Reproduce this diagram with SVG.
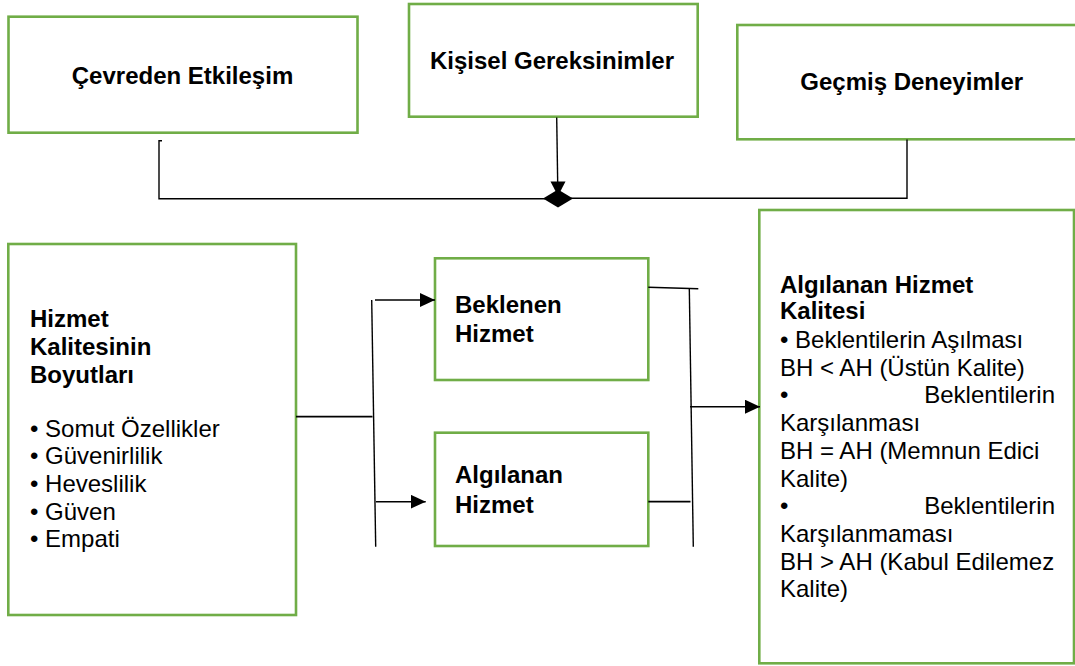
<svg xmlns="http://www.w3.org/2000/svg" width="1075" height="666" viewBox="0 0 1075 666">
  <style>
    .box { fill: #ffffff; stroke: #70AD47; stroke-width: 2.6; }
    .t { font-family: "Liberation Sans", Arial, sans-serif; font-size: 24px; fill: #000000; }
    .b { font-weight: bold; }
    .ln { fill: none; stroke: #000000; stroke-width: 1.4; }
    .hd { fill: #000000; stroke: none; }
  </style>
  <defs>
    <marker id="arr" markerWidth="15" markerHeight="14" refX="15" refY="7" orient="auto" markerUnits="userSpaceOnUse">
      <path d="M0,0 L15,7 L0,14 Z" fill="#000000"/>
    </marker>
  </defs>
  <rect width="1075" height="666" fill="#ffffff"/>

  <g id="node-cevreden">
    <rect class="box" x="8.5" y="16.7" width="349" height="116"/>
    <text class="t b" x="182.5" y="84" text-anchor="middle">Çevreden Etkileşim</text>
  </g>
  <g id="node-kisisel">
    <rect class="box" x="409" y="4" width="288.7" height="112.7"/>
    <text class="t b" x="552" y="69" text-anchor="middle">Kişisel Gereksinimler</text>
  </g>
  <g id="node-gecmis">
    <rect class="box" x="737.3" y="25" width="350" height="114.3"/>
    <text class="t b" x="911.7" y="90" text-anchor="middle">Geçmiş Deneyimler</text>
  </g>
  <g id="node-boyutlar">
    <rect class="box" x="8.3" y="244" width="287.7" height="371"/>
    <text class="t b" x="30"><tspan x="30" y="326.7">Hizmet</tspan><tspan x="30" y="355">Kalitesinin</tspan><tspan x="30" y="382.7">Boyutları</tspan></text>
    <text class="t" x="30"><tspan x="30" y="436.7">• Somut Özellikler</tspan><tspan x="30" y="464.3">• Güvenirlilik</tspan><tspan x="30" y="492.3">• Heveslilik</tspan><tspan x="30" y="520">• Güven</tspan><tspan x="30" y="546.7">• Empati</tspan></text>
  </g>
  <g id="node-beklenen">
    <rect class="box" x="435" y="258.3" width="213.3" height="121.7"/>
    <text class="t b"><tspan x="455" y="312.7">Beklenen</tspan><tspan x="455" y="341.7">Hizmet</tspan></text>
  </g>
  <g id="node-algilanan">
    <rect class="box" x="435" y="432.7" width="213.3" height="113.3"/>
    <text class="t b"><tspan x="455" y="483.3">Algılanan</tspan><tspan x="455" y="512.7">Hizmet</tspan></text>
  </g>
  <g id="node-kalite">
    <rect class="box" x="759.3" y="210" width="314.7" height="453.3"/>
    <text class="t b"><tspan x="780" y="292.7">Algılanan Hizmet</tspan><tspan x="780" y="319.3">Kalitesi</tspan></text>
    <text class="t"><tspan x="780" y="347.7">• Beklentilerin Aşılması</tspan><tspan x="780" y="375.7">BH &lt; AH (Üstün Kalite)</tspan></text>
    <text class="t"><tspan x="780" y="403.3">•</tspan><tspan x="1055" y="403.3" text-anchor="end">Beklentilerin</tspan></text>
    <text class="t"><tspan x="780" y="431">Karşılanması</tspan><tspan x="780" y="458.7">BH = AH (Memnun Edici</tspan><tspan x="780" y="486.7">Kalite)</tspan></text>
    <text class="t"><tspan x="780" y="514.3">•</tspan><tspan x="1055" y="514.3" text-anchor="end">Beklentilerin</tspan></text>
    <text class="t"><tspan x="780" y="542.3">Karşılanmaması</tspan><tspan x="780" y="570">BH &gt; AH (Kabul Edilemez</tspan><tspan x="780" y="597.3">Kalite)</tspan></text>
  </g>

  <g id="connectors">
    <!-- top merge -->
    <path class="ln" d="M162,140.7 L159,140.7 L159,198.7 L545,198.7"/>
    <path class="ln" d="M556.7,117.5 L557.7,184"/>
    <path class="ln" d="M907,139.5 L907,198.3 L571,198.3"/>
    <polygon class="hd" points="550.5,181.5 565.5,181.5 558,196"/>
    <polygon class="hd" points="543,198.5 558,189.5 573,198.5 558,207.5"/>
    <!-- middle -->
    <path class="ln" d="M296,416.7 L372.5,416.7" style="stroke-width:1.8"/>
    <path class="ln" d="M371.7,300 L375.7,546.7"/>
    <path class="ln" d="M375,300 L435,300" marker-end="url(#arr)"/>
    <path class="ln" d="M376,501.7 L425.7,501.7" marker-end="url(#arr)"/>
    <path class="ln" d="M648.3,287.3 L698.3,288.7"/>
    <path class="ln" d="M689.3,288 L693.3,546.7"/>
    <path class="ln" d="M648.3,501.7 L690.5,501.7" style="stroke-width:1.8"/>
    <path class="ln" d="M690,406.7 L760,406.7" marker-end="url(#arr)"/>
  </g>
</svg>
